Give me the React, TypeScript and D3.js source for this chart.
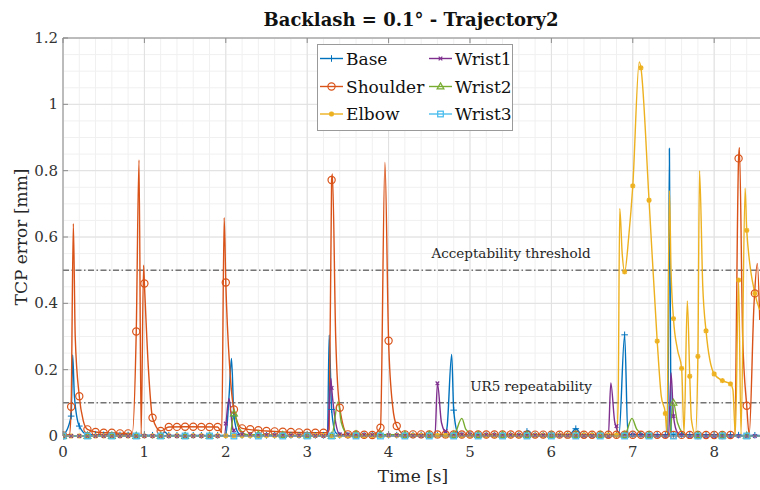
import React from "react";
import * as d3 from "d3";

// ---------- data ----------
const seriesNames = ["Base", "Shoulder", "Elbow", "Wrist1", "Wrist2", "Wrist3"];
const seriesColors = ["#0072BD", "#D95319", "#EDB120", "#7E2F8E", "#77AC30", "#4DBEEE"];
const seriesMarkers = ["plus", "circle", "star", "cross", "triangle", "square"];
const markerSteps = [0.1, 0.1, 0.1, 0.1, 0.3, 0.3];

const baseData: [number, number][] = [
  [0, 0], [0.1, 0.06], [0.119, 0.244], [0.14, 0.12], [0.2, 0.03], [0.3, 0.004],
  [1.2, 0.002], [1.25, 0.012], [1.3, 0.002], [2.0, 0.002], [2.04, 0.12], [2.07, 0.234],
  [2.1, 0.06], [2.15, 0.01], [2.2, 0.002], [3.25, 0.002], [3.27, 0.305], [3.3, 0.08],
  [3.35, 0.01], [3.4, 0.002], [4.7, 0.003], [4.72, 0.03], [4.775, 0.246], [4.8, 0.078],
  [4.85, 0.01], [4.9, 0.003], [5.65, 0.003], [5.71, 0.016], [5.78, 0.003], [6.22, 0.003],
  [6.3, 0.022], [6.38, 0.003], [6.83, 0.003], [6.9, 0.305], [6.94, 0.005], [7.43, 0.003],
  [7.45, 0.867], [7.47, 0.005], [8.56, 0.002],
];

const shoulderData: [number, number][] = [
  [0, 0.002], [0.08, 0.005], [0.1, 0.088], [0.127, 0.64], [0.15, 0.3], [0.2, 0.12],
  [0.25, 0.045], [0.3, 0.02], [0.4, 0.012], [0.5, 0.01], [0.6, 0.01], [0.7, 0.008],
  [0.85, 0.008], [0.9, 0.315], [0.934, 0.832], [0.96, 0.005], [0.99, 0.515], [1.0, 0.46],
  [1.05, 0.2], [1.1, 0.055], [1.2, 0.015], [1.3, 0.027], [1.5, 0.028], [1.9, 0.027],
  [1.95, 0.01], [1.98, 0.658], [2.0, 0.463], [2.05, 0.2], [2.1, 0.08], [2.2, 0.023],
  [2.5, 0.015], [3.0, 0.01], [3.25, 0.01], [3.27, 0.02], [3.3, 0.772], [3.31, 0.79],
  [3.35, 0.3], [3.4, 0.085], [3.5, 0.005], [3.8, 0.003], [3.9, 0.025], [3.955, 0.825],
  [4.0, 0.287], [4.05, 0.09], [4.1, 0.03], [4.2, 0.005], [8.25, 0.003], [8.3, 0.837],
  [8.31, 0.87], [8.35, 0.3], [8.4, 0.091], [8.43, 0.005], [8.49, 0.4], [8.53, 0.52],
  [8.56, 0.35],
];

const elbowData: [number, number][] = [
  [0, 0], [6.8, 0.003], [6.82, 0.1], [6.84, 0.686], [6.87, 0.55], [6.9, 0.495],
  [6.95, 0.6], [7.0, 0.754], [7.08, 1.128], [7.1, 1.11], [7.2, 0.711], [7.3, 0.286],
  [7.35, 0.12], [7.4, 0.068], [7.42, 0.01], [7.45, 0.74], [7.47, 0.5], [7.5, 0.354],
  [7.55, 0.26], [7.6, 0.204], [7.63, 0.01], [7.67, 0.407], [7.7, 0.18], [7.72, 0.05],
  [7.77, 0.005], [7.8, 0.24], [7.82, 0.8], [7.86, 0.45], [7.9, 0.317], [8.0, 0.187],
  [8.1, 0.167], [8.2, 0.157], [8.23, 0.14], [8.26, 0.005], [8.3, 0.47], [8.33, 0.005],
  [8.38, 0.747], [8.4, 0.62], [8.5, 0.43], [8.56, 0.38],
];

const wrist1Data: [number, number][] = [
  [0, 0], [1.98, 0], [2.04, 0.113], [2.08, 0.03], [2.12, 0.005], [3.25, 0],
  [3.29, 0.174], [3.3, 0.145], [3.35, 0.04], [3.4, 0.005], [4.57, 0], [4.6, 0.159],
  [4.65, 0.04], [4.72, 0.005], [6.7, 0], [6.73, 0.16], [6.78, 0.04], [6.85, 0.005],
  [7.44, 0], [7.47, 0.19], [7.5, 0.06], [7.55, 0.01], [7.62, 0], [8.56, 0],
];

const wrist2Data: [number, number][] = [
  [0, 0], [2.05, 0], [2.1, 0.068], [2.15, 0.03], [2.25, 0.005], [3.3, 0],
  [3.38, 0.103], [3.42, 0.04], [3.5, 0.005], [4.8, 0.003], [4.9, 0.053], [4.95, 0.02],
  [5.05, 0.003], [6.9, 0.003], [6.99, 0.053], [7.05, 0.02], [7.15, 0.003], [7.45, 0],
  [7.5, 0.1], [7.55, 0.04], [7.65, 0.003], [8.56, 0],
];

const wrist3Data: [number, number][] = [
  [0, 0], [8.56, 0],
];

const allData = [baseData, shoulderData, elbowData, wrist1Data, wrist2Data, wrist3Data];

const xTicks = [0, 1, 2, 3, 4, 5, 6, 7, 8];
const yTicks = [0, 0.2, 0.4, 0.6, 0.8, 1, 1.2];
const thresholds = [0.5, 0.1];
const thresholdLabels = ["Acceptability threshold", "UR5 repeatability"];

// ---------- layout ----------
const W = 760;
const H = 490;
const L = 63;
const R = 760;
const T = 38;
const B = 436;
const X_MAX = 8.563;
const FONT = "'DejaVu Serif', 'Liberation Serif', serif";

const x = d3.scaleLinear().domain([0, X_MAX]).range([L, R]);
const y = d3.scaleLinear().domain([0, 1.2]).range([B, T]);

function interp(data: [number, number][], t: number): number {
  const i = d3.bisector((d: [number, number]) => d[0]).left(data, t);
  if (i <= 0) return data[0][1];
  if (i >= data.length) return data[data.length - 1][1];
  const [t0, v0] = data[i - 1];
  const [t1, v1] = data[i];
  if (t1 === t0) return v1;
  return v0 + ((v1 - v0) * (t - t0)) / (t1 - t0);
}

function Marker({ kind, cx, cy, color }: { kind: string; cx: number; cy: number; color: string }) {
  const s = 3.3;
  switch (kind) {
    case "plus":
      return (
        <g stroke={color} strokeWidth={1}>
          <line x1={cx - s} y1={cy} x2={cx + s} y2={cy} />
          <line x1={cx} y1={cy - s} x2={cx} y2={cy + s} />
        </g>
      );
    case "circle":
      return <circle cx={cx} cy={cy} r={3.6} fill="none" stroke={color} strokeWidth={1.2} />;
    case "star": {
      const a = 2.5;
      return (
        <g stroke={color} strokeWidth={1.6}>
          <line x1={cx - a} y1={cy} x2={cx + a} y2={cy} />
          <line x1={cx} y1={cy - a} x2={cx} y2={cy + a} />
          <line x1={cx - a * 0.75} y1={cy - a * 0.75} x2={cx + a * 0.75} y2={cy + a * 0.75} />
          <line x1={cx - a * 0.75} y1={cy + a * 0.75} x2={cx + a * 0.75} y2={cy - a * 0.75} />
        </g>
      );
    }
    case "cross": {
      const a = 1.8;
      return (
        <g stroke={color} strokeWidth={1.2}>
          <line x1={cx - a} y1={cy - a} x2={cx + a} y2={cy + a} />
          <line x1={cx - a} y1={cy + a} x2={cx + a} y2={cy - a} />
        </g>
      );
    }
    case "triangle":
      return (
        <path
          d={`M${cx},${cy - 3.6}L${cx + 3.4},${cy + 2.4}L${cx - 3.4},${cy + 2.4}Z`}
          fill="none"
          stroke={color}
          strokeWidth={1.2}
        />
      );
    case "square":
      return <rect x={cx - 2.8} y={cy - 2.8} width={5.6} height={5.6} fill="none" stroke={color} strokeWidth={1.3} />;
    default:
      return null;
  }
}

export default function App() {
  const line = d3
    .line<[number, number]>()
    .x((d) => x(d[0]))
    .y((d) => y(d[1]))
    .curve(d3.curveMonotoneX);

  const minorX = d3.range(0, X_MAX + 1e-9, 0.2);
  const minorY = d3.range(0, 1.2 + 1e-9, 0.05);

  const legendRows = [
    [0, 3],
    [1, 4],
    [2, 5],
  ];
  const legRowY = [58.5, 86.5, 114];
  const legColX = [320, 429];

  return (
    <svg
      width={W}
      height={H}
      style={{ position: "absolute", left: 0, top: 0, background: "#fff" }}
      fontFamily={FONT}
    >
      <defs>
        <clipPath id="plotClip">
          <rect x={L} y={T - 2} width={R - L} height={B - T + 6} />
        </clipPath>
      </defs>
      {/* minor grid */}
      <g stroke="#f0f0f0" strokeWidth={1}>
        {minorX.map((t, i) => (
          <line key={"mx" + i} x1={x(t)} x2={x(t)} y1={T} y2={B} />
        ))}
        {minorY.map((v, i) => (
          <line key={"my" + i} x1={L} x2={R} y1={y(v)} y2={y(v)} />
        ))}
      </g>
      {/* major grid */}
      <g stroke="#e0e0e0" strokeWidth={1}>
        {xTicks.map((t) => (
          <line key={"gx" + t} x1={x(t)} x2={x(t)} y1={T} y2={B} />
        ))}
        {yTicks.map((v) => (
          <line key={"gy" + v} x1={L} x2={R} y1={y(v)} y2={y(v)} />
        ))}
      </g>

      {/* thresholds */}
      {thresholds.map((v) => (
        <line
          key={"th" + v}
          x1={L}
          x2={R}
          y1={y(v)}
          y2={y(v)}
          stroke="#333"
          strokeWidth={1}
          strokeDasharray="6,2.5,1.5,2.5"
        />
      ))}
      <text x={511} y={y(0.5) - 12} textAnchor="middle" fontSize={13.5} fill="#262626">
        {thresholdLabels[0]}
      </text>
      <text x={531} y={y(0.1) - 12} textAnchor="middle" fontSize={13.5} fill="#262626">
        {thresholdLabels[1]}
      </text>

      {/* series */}
      <g clipPath="url(#plotClip)">
        {allData.map((data, si) => (
          <path key={"l" + si} d={line(data) || ""} fill="none" stroke={seriesColors[si]} strokeWidth={1.4} />
        ))}
        {allData.map((data, si) => {
          const ts = d3.range(0, X_MAX + 1e-9, markerSteps[si]);
          return (
            <g key={"m" + si}>
              {ts.map((t, k) => (
                <Marker key={k} kind={seriesMarkers[si]} cx={x(t)} cy={y(interp(data, t))} color={seriesColors[si]} />
              ))}
            </g>
          );
        })}
      </g>

      {/* axes */}
      <g stroke="#8c8c8c" strokeWidth={1} fill="none">
        <line x1={L} x2={R} y1={T} y2={T} />
        <line x1={L} x2={L} y1={T} y2={B} />
        <line x1={L} x2={R} y1={B} y2={B} />
        {xTicks.map((t) => (
          <g key={"tx" + t}>
            <line x1={x(t)} x2={x(t)} y1={B} y2={B - 5} />
            <line x1={x(t)} x2={x(t)} y1={T} y2={T + 5} />
          </g>
        ))}
        {yTicks.map((v) => (
          <line key={"ty" + v} x1={L} x2={L + 5} y1={y(v)} y2={y(v)} />
        ))}
      </g>
      <g fontSize={15} fill="#333">
        {xTicks.map((t) => (
          <text key={"xl" + t} x={x(t)} y={B + 21} textAnchor="middle">
            {String(t)}
          </text>
        ))}
        {yTicks.map((v) => (
          <text key={"yl" + v} x={L - 5} y={y(v) + 5} textAnchor="end">
            {String(v)}
          </text>
        ))}
      </g>
      <text x={413} y={482} textAnchor="middle" fontSize={17} fill="#262626">
        Time [s]
      </text>
      <text
        transform={`translate(27, ${(T + B) / 2}) rotate(-90)`}
        textAnchor="middle"
        fontSize={17}
        fill="#262626"
      >
        TCP error [mm]
      </text>
      <text x={411} y={26} textAnchor="middle" fontSize={18} fontWeight="bold" fill="#111">
        Backlash = 0.1° - Trajectory2
      </text>

      {/* legend */}
      <rect x={317.5} y={44.5} width={195} height={86} fill="#fff" stroke="#9a9a9a" strokeWidth={1} />
      {legendRows.map((row, ri) =>
        row.map((si, ci) => {
          const lx = legColX[ci];
          const ly = legRowY[ri];
          return (
            <g key={"lg" + si}>
              <line x1={lx} x2={lx + 23} y1={ly} y2={ly} stroke={seriesColors[si]} strokeWidth={1.4} />
              <Marker kind={seriesMarkers[si]} cx={lx + 11.5} cy={ly} color={seriesColors[si]} />
              <text x={lx + 26} y={ly + 6} fontSize={17} fill="#111">
                {seriesNames[si]}
              </text>
            </g>
          );
        })
      )}
    </svg>
  );
}
